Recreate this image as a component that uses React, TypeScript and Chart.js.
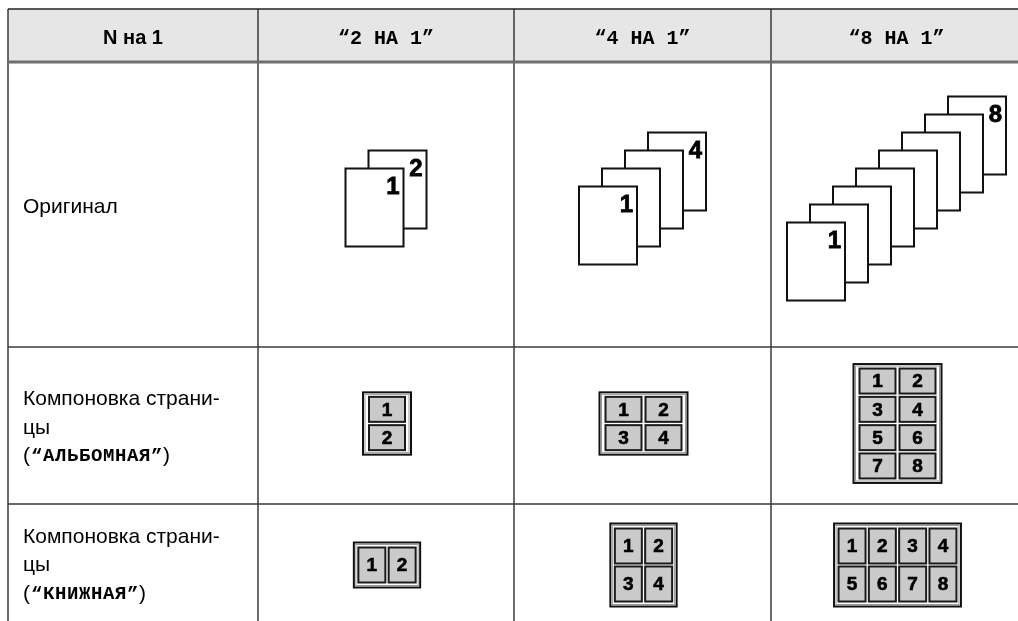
import React, { useEffect, useRef } from "react";
import { Chart, registerables } from "chart.js";

Chart.register(...registerables);

const W = 1018;
const H = 621;

// ---------- data ----------
const columnHeaders = ["N на 1", "“2 НА 1”", "“4 НА 1”", "“8 НА 1”"];
const rowLabels = [
  ["Оригинал"],
  ["Компоновка страни-", "цы", "(“АЛЬБОМНАЯ”)"],
  ["Компоновка страни-", "цы", "(“КНИЖНАЯ”)"],
];
const pagesPerSheet = [2, 4, 8];
const landscapeCols = [1, 2, 2];
const landscapeRows = [2, 2, 4];
const portraitCols = [2, 2, 4];
const portraitRows = [1, 2, 2];

// ---------- layout (table units, mapped through the chart scales) ----------
const colEdges = [8, 258, 514, 771, 1022];
const rowEdges = [9, 62, 347, 504, 622];

const SANS = "'Liberation Sans', Arial, sans-serif";
const MONO = "'Liberation Mono', 'Courier New', monospace";

const heavyText = (ctx: CanvasRenderingContext2D, t: string, x: number, y: number, w: number) => {
  ctx.lineJoin = "miter";
  ctx.lineWidth = w;
  ctx.strokeStyle = "#000";
  ctx.strokeText(t, x, y);
  ctx.fillText(t, x, y);
};

const tablePlugin = {
  id: "nupTable",
  afterDraw(chart: any) {
    const ctx: CanvasRenderingContext2D = chart.ctx;
    const xs = chart.scales.x;
    const ys = chart.scales.y;
    const X = (v: number) => xs.getPixelForValue(v);
    const Y = (v: number) => ys.getPixelForValue(v);

    ctx.save();
    // header background
    ctx.fillStyle = "#e6e6e6";
    ctx.fillRect(X(colEdges[0]), Y(rowEdges[0]), X(W) - X(colEdges[0]), Y(rowEdges[1]) - Y(rowEdges[0]));

    // grid lines
    ctx.strokeStyle = "#3a3a3a";
    ctx.lineWidth = 1.5;
    for (let i = 0; i < 4; i++) {
      ctx.beginPath();
      ctx.moveTo(X(colEdges[i]), Y(rowEdges[0]));
      ctx.lineTo(X(colEdges[i]), Y(H));
      ctx.stroke();
    }
    ctx.strokeStyle = "#222";
    ctx.beginPath();
    ctx.moveTo(X(colEdges[0]), Y(rowEdges[0]));
    ctx.lineTo(X(W), Y(rowEdges[0]));
    ctx.stroke();
    ctx.strokeStyle = "#3a3a3a";
    for (let r = 2; r <= 3; r++) {
      ctx.beginPath();
      ctx.moveTo(X(colEdges[0]), Y(rowEdges[r]));
      ctx.lineTo(X(W), Y(rowEdges[r]));
      ctx.stroke();
    }
    ctx.strokeStyle = "#6e6e6e";
    ctx.lineWidth = 3;
    ctx.beginPath();
    ctx.moveTo(X(colEdges[0]), Y(rowEdges[1]));
    ctx.lineTo(X(W), Y(rowEdges[1]));
    ctx.stroke();

    // header texts
    ctx.fillStyle = "#000";
    ctx.textBaseline = "alphabetic";
    ctx.textAlign = "center";
    const hy = (rowEdges[0] + rowEdges[1]) / 2 + 8.5;
    columnHeaders.forEach((t, i) => {
      ctx.font = i === 0 ? `bold 20px ${SANS}` : `bold 20px ${MONO}`;
      ctx.fillText(t, X((colEdges[i] + colEdges[i + 1]) / 2), Y(hy));
    });

    // row labels
    ctx.textAlign = "left";
    const pitch = 28.5;
    rowLabels.forEach((lines, r) => {
      const cy = (rowEdges[r + 1] + rowEdges[r + 2]) / 2 + 8;
      const first = cy - ((lines.length - 1) / 2) * pitch;
      lines.forEach((line, k) => {
        const by = Y(first + k * pitch);
        let x = X(colEdges[0] + 15);
        if (line.startsWith("(") && line.endsWith(")")) {
          const inner = line.slice(1, -1);
          ctx.font = `21px ${SANS}`;
          ctx.fillText("(", x, by);
          x += ctx.measureText("(").width + 1;
          ctx.font = `bold 19px ${MONO}`;
          (ctx as any).letterSpacing = "0.6px";
          ctx.fillText(inner, x, by - 1);
          x += ctx.measureText(inner).width;
          (ctx as any).letterSpacing = "0px";
          ctx.font = `21px ${SANS}`;
          ctx.fillText(")", x, by);
        } else {
          ctx.font = `21px ${SANS}`;
          ctx.fillText(line, x, by);
        }
      });
    });

    // original page stacks
    const PW = 58, PH = 78, DX = 23, DY = 18;
    pagesPerSheet.forEach((n, c) => {
      const cx = (colEdges[c + 1] + colEdges[c + 2]) / 2;
      const cy = (rowEdges[1] + rowEdges[2]) / 2 - 6;
      const gw = PW + (n - 1) * DX;
      const gh = PH + (n - 1) * DY;
      const x0 = cx - gw / 2;
      const yFront = cy - gh / 2 + (n - 1) * DY;
      for (let i = n - 1; i >= 0; i--) {
        const px = x0 + i * DX;
        const py = yFront - i * DY;
        const l = X(px), t = Y(py), w = X(px + PW) - l, h = Y(py + PH) - t;
        ctx.fillStyle = "#fff";
        ctx.fillRect(l, t, w, h);
        ctx.strokeStyle = "#111";
        ctx.lineWidth = 2;
        ctx.strokeRect(l, t, w, h);
        if (i === 0 || i === n - 1) {
          ctx.fillStyle = "#000";
          ctx.font = `bold 24px ${SANS}`;
          ctx.textAlign = "right";
          heavyText(ctx, String(i + 1), X(px + PW - 4), Y(py + 25), 0.8);
        }
      }
    });

    // layout grids
    const drawGrid = (
      cx: number, cy: number, cols: number, rows: number,
      cw: number, ch: number, gx: number, gy: number, padX: number, padY: number
    ) => {
      const ow = cols * cw + (cols - 1) * gx + 2 * padX;
      const oh = rows * ch + (rows - 1) * gy + 2 * padY;
      const ox = cx - ow / 2, oy = cy - oh / 2;
      ctx.fillStyle = "#fff";
      ctx.fillRect(X(ox), Y(oy), X(ox + ow) - X(ox), Y(oy + oh) - Y(oy));
      ctx.strokeStyle = "#111";
      ctx.lineWidth = 2;
      ctx.strokeRect(X(ox), Y(oy), X(ox + ow) - X(ox), Y(oy + oh) - Y(oy));
      ctx.strokeStyle = "#9a9a9a";
      ctx.lineWidth = 1;
      ctx.strokeRect(X(ox + 2), Y(oy + 2), X(ox + ow - 2) - X(ox + 2), Y(oy + oh - 2) - Y(oy + 2));
      for (let r = 0; r < rows; r++) {
        for (let c = 0; c < cols; c++) {
          const x = ox + padX + c * (cw + gx);
          const y = oy + padY + r * (ch + gy);
          ctx.fillStyle = "#cacaca";
          ctx.fillRect(X(x), Y(y), X(x + cw) - X(x), Y(y + ch) - Y(y));
          ctx.strokeStyle = "#1a1a1a";
          ctx.lineWidth = 2;
          ctx.strokeRect(X(x), Y(y), X(x + cw) - X(x), Y(y + ch) - Y(y));
          ctx.fillStyle = "#000";
          ctx.font = `bold 19px ${SANS}`;
          ctx.textAlign = "center";
          ctx.textBaseline = "middle";
          heavyText(ctx, String(r * cols + c + 1), X(x + cw / 2), Y(y + ch / 2 + 1), 0.6);
          ctx.textBaseline = "alphabetic";
        }
      }
    };
    for (let k = 0; k < 3; k++) {
      const cx = (colEdges[k + 1] + colEdges[k + 2]) / 2 + 1;
      drawGrid(cx, (rowEdges[2] + rowEdges[3]) / 2 - 2, landscapeCols[k], landscapeRows[k], 36, 25, 4, 3.3, 6, 4.5);
      drawGrid(cx, (rowEdges[3] + rowEdges[4]) / 2 + 2, portraitCols[k], portraitRows[k], 27, 35, 3.3, 3, 4.5, 5);
    }
    ctx.restore();
  },
};

export default function App() {
  const ref = useRef<HTMLCanvasElement>(null);
  useEffect(() => {
    const chart = new Chart(ref.current as HTMLCanvasElement, {
      type: "scatter",
      data: { datasets: [] },
      options: {
        responsive: false,
        animation: false,
        devicePixelRatio: 1,
        events: [],
        layout: { padding: 0 },
        plugins: { legend: { display: false }, tooltip: { enabled: false } },
        scales: {
          x: { type: "linear", min: 0, max: W, display: false },
          y: { type: "linear", min: 0, max: H, reverse: true, display: false },
        },
      },
      plugins: [tablePlugin],
    } as any);
    return () => chart.destroy();
  }, []);
  return (
    <div style={{ position: "absolute", left: 0, top: 0, width: W, height: H, background: "#fff" }}>
      <canvas ref={ref} width={W} height={H} style={{ display: "block" }} />
    </div>
  );
}
